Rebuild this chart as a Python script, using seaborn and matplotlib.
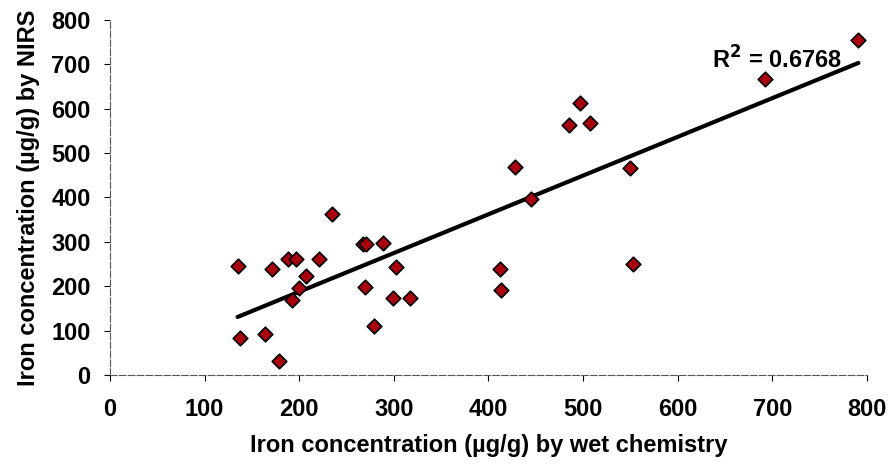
import numpy as np
import pandas as pd
import matplotlib
matplotlib.use("Agg")
import matplotlib.pyplot as plt
import seaborn as sns

wet_chem = [134.8, 137, 164, 178.8, 171, 187.6, 197, 220.7, 207, 199.9, 191.8, 235,
            267, 271, 288.6, 302.7, 270, 299, 317.5, 279, 497, 484.7, 507, 428, 550,
            444.6, 411.8, 413.6, 553, 791, 692]
nirs = [245, 82.6, 91.6, 31.5, 238, 262, 262, 262, 223.6, 195, 169, 362.6,
        294, 294, 298, 244, 199, 172.7, 172.7, 110, 613, 564.6, 567, 467.8, 465.5,
        396, 238, 191.4, 250, 756, 666.7]
x_ticks = [0, 100, 200, 300, 400, 500, 600, 700, 800]
y_ticks = [0, 100, 200, 300, 400, 500, 600, 700, 800]
r2_label = "R$^\\mathbf{2}$ = 0.6768"
x_label = "Iron concentration (\u00b5g/g) by wet chemistry"
y_label = "Iron concentration (\u00b5g/g) by NIRS"

df = pd.DataFrame({"wet": wet_chem, "nirs": nirs})

sns.set_style("white")
plt.rcParams['font.family'] = ['Liberation Sans', 'DejaVu Sans']
plt.rcParams['text.color'] = 'black'
plt.rcParams['axes.labelcolor'] = 'black'

fig = plt.figure(figsize=(8.91, 4.68), dpi=100)
ax = fig.add_axes([0.1235, 0.199, 0.8495, 0.758])

sns.regplot(data=df, x="wet", y="nirs", ax=ax, ci=None, truncate=True,
            scatter=False, line_kws=dict(color="black", lw=3.0))
sns.scatterplot(data=df, x="wet", y="nirs", ax=ax, marker="D", s=55,
                color="#A8000E", edgecolor="black", linewidth=1.2, zorder=3)

ax.set_xlim(0, 800)
ax.set_ylim(0, 800)
ax.set_xticks(x_ticks)
ax.set_yticks(y_ticks)
ax.tick_params(axis="both", labelsize=17, length=4, width=0.8, direction="out",
               bottom=True, left=True, colors="black")
ax.tick_params(axis="x", pad=13)
ax.tick_params(axis="y", pad=10)
for lab in ax.get_xticklabels() + ax.get_yticklabels():
    lab.set_fontweight("bold")
ax.set_xlabel(x_label, fontsize=17, fontweight="bold", labelpad=9, color="black")
ax.set_ylabel(y_label, fontsize=17, fontweight="bold", labelpad=8, color="black")
sns.despine(ax=ax)
for sp in ["left", "bottom"]:
    ax.spines[sp].set_color("#555555")
    ax.spines[sp].set_linewidth(0.8)
    ax.spines[sp].set_linestyle((0, (6, 2)))

ax.text(636, 709, r2_label, fontsize=17, fontweight="bold", color="black",
        ha="left", va="center")

fig.savefig("out.png", dpi=100)
